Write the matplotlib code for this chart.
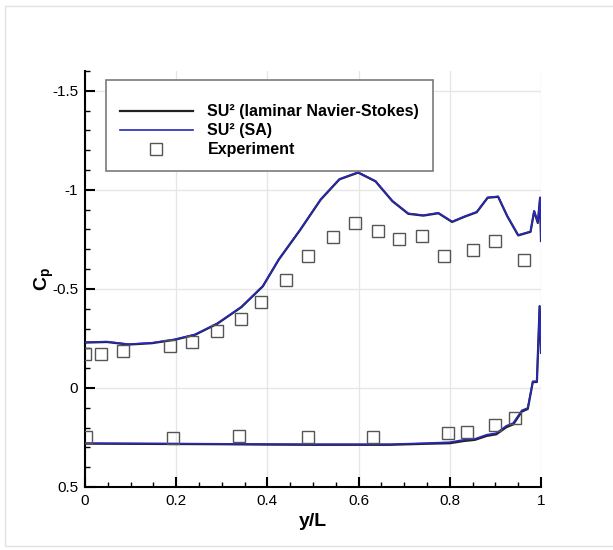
import matplotlib
matplotlib.use("Agg")
import matplotlib.pyplot as plt
from matplotlib.patches import Rectangle
from matplotlib.ticker import MultipleLocator

# ==========================================================
# DATA
# ==========================================================

# upper surface, both solvers
x_upper = [0.0, 0.048, 0.095, 0.147, 0.196, 0.241, 0.29, 0.343, 0.39,
           0.425, 0.472, 0.517, 0.558, 0.599, 0.637, 0.674, 0.709, 0.742,
           0.775, 0.805, 0.832, 0.859, 0.883, 0.906, 0.926, 0.95, 0.977,
           0.985, 0.993, 0.998, 1.0]

cp_upper_laminar = [-0.229, -0.232, -0.219, -0.226, -0.243, -0.268, -0.324,
                    -0.408, -0.513, -0.648, -0.798, -0.951, -1.053, -1.087,
                    -1.043, -0.943, -0.879, -0.870, -0.882, -0.838, -0.864,
                    -0.887, -0.960, -0.965, -0.867, -0.770, -0.788, -0.892,
                    -0.833, -0.960, -0.742]

cp_upper_sa = [-0.231, -0.234, -0.221, -0.228, -0.245, -0.27, -0.326,
               -0.41, -0.515, -0.65, -0.80, -0.953, -1.055, -1.089,
               -1.045, -0.945, -0.881, -0.872, -0.884, -0.84, -0.866,
               -0.889, -0.962, -0.967, -0.869, -0.772, -0.79, -0.894,
               -0.835, -0.962, -0.742]

# lower surface, both solvers
x_lower = [0.0, 0.1, 0.2, 0.3, 0.4, 0.5, 0.6, 0.669, 0.744, 0.80, 0.83,
           0.855, 0.881, 0.902, 0.924, 0.939, 0.958, 0.971, 0.982, 0.991,
           0.997, 1.0]

cp_lower_laminar = [0.281, 0.282, 0.283, 0.284, 0.286, 0.287, 0.287, 0.287,
                    0.282, 0.279, 0.268, 0.262, 0.242, 0.234, 0.198, 0.184,
                    0.119, 0.106, -0.030, -0.030, -0.413, -0.177]

cp_lower_sa = [0.279, 0.280, 0.281, 0.282, 0.283, 0.284, 0.284, 0.284,
               0.279, 0.274, 0.262, 0.257, 0.236, 0.228, 0.191, 0.177,
               0.113, 0.101, -0.034, -0.034, -0.413, -0.177]

# experiment
x_exp = [0.0, 0.035, 0.084, 0.187, 0.235, 0.29, 0.343, 0.386, 0.44, 0.488,
         0.544, 0.592, 0.643, 0.689, 0.738, 0.787, 0.851, 0.900, 0.962,
         0.002, 0.193, 0.338, 0.488, 0.632, 0.795, 0.837, 0.899, 0.943]

cp_exp = [-0.172, -0.172, -0.185, -0.214, -0.233, -0.287, -0.346, -0.434,
          -0.543, -0.666, -0.763, -0.832, -0.793, -0.754, -0.768, -0.666,
          -0.697, -0.742, -0.646,
          0.248, 0.253, 0.245, 0.250, 0.247, 0.228, 0.220, 0.189, 0.152]

x_ticks = [0, 0.2, 0.4, 0.6, 0.8, 1.0]
x_tick_labels = ["0", "0.2", "0.4", "0.6", "0.8", "1"]
y_ticks = [-1.5, -1.0, -0.5, 0.0, 0.5]
y_tick_labels = ["-1.5", "-1", "-0.5", "0", "0.5"]

# ==========================================================
# STYLE
# ==========================================================

plt.rcParams["font.family"] = ["Liberation Sans", "DejaVu Sans"]
plt.rcParams["mathtext.fontset"] = "custom"
plt.rcParams["mathtext.rm"] = "Liberation Sans"
plt.rcParams["mathtext.bf"] = "Liberation Sans:bold"
plt.rcParams["mathtext.it"] = "Liberation Sans:italic"

LAMINAR_COLOR = "#222222"
SA_COLOR = "#2828bc"
GRID_COLOR = "#e6e6e6"

# ==========================================================
# FIGURE
# ==========================================================

fig = plt.figure(figsize=(6.13, 5.5), dpi=100)

ax = fig.add_axes([85 / 613, 63 / 550, 456 / 613, 416 / 550])

# faint outer frame of the picture
fig.add_artist(
    Rectangle(
        (5 / 613, 4 / 550),
        1.0,
        540 / 550,
        transform=fig.transFigure,
        fill=False,
        edgecolor="#e2e2e2",
        linewidth=1.0,
    )
)

ax.plot(x_upper, cp_upper_laminar, color=LAMINAR_COLOR, linewidth=1.6,
        label="SU² (laminar Navier-Stokes)", zorder=3)
ax.plot(x_lower, cp_lower_laminar, color=LAMINAR_COLOR, linewidth=1.6,
        zorder=3)

ax.plot(x_upper, cp_upper_sa, color=SA_COLOR, linewidth=1.2,
        label="SU² (SA)", zorder=4)
ax.plot(x_lower, cp_lower_sa, color=SA_COLOR, linewidth=1.2, zorder=4)

ax.plot(x_exp, cp_exp, linestyle="none", marker="s", markersize=8,
        markerfacecolor="none", markeredgecolor="#555555",
        markeredgewidth=1.0, label="Experiment", zorder=5)

# ==========================================================
# AXES
# ==========================================================

ax.set_xlim(0, 1)
ax.set_ylim(0.5, -1.6)

ax.set_xticks(x_ticks)
ax.set_xticklabels(x_tick_labels)
ax.set_yticks(y_ticks)
ax.set_yticklabels(y_tick_labels)

ax.xaxis.set_minor_locator(MultipleLocator(0.05))
ax.yaxis.set_minor_locator(MultipleLocator(0.1))

ax.tick_params(which="major", direction="in", length=7.5, width=1.5,
               labelsize=11, pad=5)
ax.tick_params(which="minor", direction="in", length=3.8, width=1.0)
ax.tick_params(axis="y", which="both", right=False)
ax.tick_params(axis="x", which="both", top=False)

for side in ["top", "right"]:
    ax.spines[side].set_visible(False)
for side in ["left", "bottom"]:
    ax.spines[side].set_linewidth(1.5)

ax.grid(True, which="major", color=GRID_COLOR, linewidth=1.0, zorder=0)
ax.set_axisbelow(True)

ax.set_xlabel("y/L", fontsize=14, fontweight="bold", labelpad=4)
ax.set_ylabel(r"$\mathbf{C_p}$", fontsize=14)
ax.yaxis.set_label_coords(-0.064, 0.5)

# ==========================================================
# LEGEND
# ==========================================================

leg = ax.legend(
    loc="upper left",
    bbox_to_anchor=(0.046, 0.979),
    borderaxespad=0.0,
    prop={"weight": "bold", "size": 11.5},
    title=" ",
    title_fontsize=5.5,
    handlelength=4.6,
    handletextpad=0.9,
    borderpad=0.85,
    labelspacing=0.25,
    fancybox=False,
    framealpha=1.0,
    edgecolor="#7a7a7a",
)
leg.get_frame().set_linewidth(1.2)

# ==========================================================
# SAVE
# ==========================================================

fig.savefig("out.png", dpi=100)
